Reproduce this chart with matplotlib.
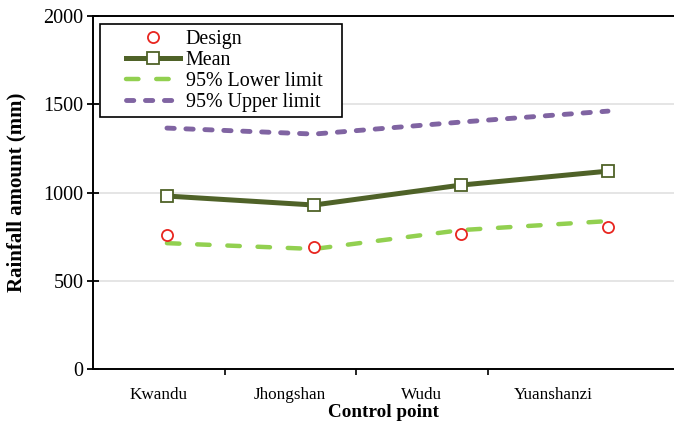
import matplotlib.pyplot as plt
import numpy as np
from matplotlib.legend_handler import HandlerLine2D

plt.rcParams['font.family'] = ['Liberation Serif', 'DejaVu Serif']

points = ["Kwandu", "Jhongshan", "Wudu", "Yuanshanzi"]
design = [759, 691, 764, 804]
mean = [980, 929, 1042, 1121]
lower = [713, 680, 787, 838]
upper = [1365, 1331, 1399, 1461]

x = np.arange(len(points))

fig = plt.figure(figsize=(6.74, 4.32), dpi=100)
rect = [93 / 674, 63 / 432, 581 / 674, 353 / 432]

# category axis: frame, grid, labels
ax = fig.add_axes(rect)
ax.set_ylim(0, 2000)
ax.set_yticks([0, 500, 1000, 1500, 2000])
ax.set_xlim(-0.5, 3.918)
ax.set_xticks(x)
ax.set_xticklabels(points, fontsize=12.3)
ax.set_xticks([0.5, 1.5, 2.5], minor=True)
ax.tick_params(axis='x', which='major', length=0, pad=13)
ax.tick_params(axis='x', which='minor', length=4, width=1.2, direction='out')
ax.tick_params(axis='y', length=8, width=1.3, direction='inout', labelsize=14.5, pad=3)
ax.grid(axis='y', color='#dedede', lw=1.1)
ax.set_axisbelow(True)
ax.spines['right'].set_visible(False)
for s in ['left', 'bottom', 'top']:
    ax.spines[s].set_linewidth(1.4)
ax.set_xlabel('Control point', fontsize=13.8, fontweight='bold', labelpad=1)
ax.set_ylabel('Rainfall amount (mm)', fontsize=15, fontweight='bold', labelpad=12)

# series overlay
ax2 = fig.add_axes(rect, frameon=False)
ax2.set_ylim(0, 2000)
ax2.set_xlim(-0.503, 3.449)
ax2.set_xticks([])
ax2.set_yticks([])

ax2.plot(x, design, linestyle='none', marker='o', markersize=8, markerfacecolor='white',
         markeredgecolor='#e8251f', markeredgewidth=1.3, label='Design', zorder=5)
ax2.plot(x, mean, color='#4f6228', lw=3.6, marker='s', markersize=8.5, markerfacecolor='white',
         markeredgecolor='#4f6228', markeredgewidth=1.3, label='Mean', zorder=4)
ax2.plot(x, lower, color='#92d050', lw=3.2, dashes=(2.8, 4.0), dash_capstyle='round',
         label='95% Lower limit', zorder=3)
ax2.plot(x, upper, color='#8064a2', lw=3.5, dashes=(1.5, 2.4), dash_capstyle='round',
         label='95% Upper limit', zorder=3)

# legend box is wider than its content, handles indented
leg = ax2.legend(loc='upper left', bbox_to_anchor=(7 / 581, 0, 242 / 581, 345 / 353),
                 mode='expand', fontsize=14.4, frameon=True, fancybox=False, framealpha=1,
                 borderpad=0.28, labelspacing=0.1, handlelength=3.7, handletextpad=0.3,
                 borderaxespad=0, handler_map={plt.Line2D: HandlerLine2D(xpad=1.0)})
leg.get_frame().set_edgecolor('black')
leg.get_frame().set_linewidth(1.2)

fig.savefig('out.png', dpi=100)
